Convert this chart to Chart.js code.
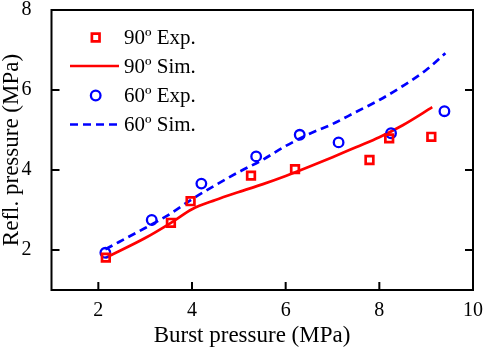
<!DOCTYPE html>
<html>
<head>
<meta charset="utf-8">
<script src="https://cdn.jsdelivr.net/npm/chart.js@4/dist/chart.umd.min.js"></script>
<style>
  html, body { margin: 0; padding: 0; background: #fff; }
  #wrap { width: 484px; height: 351px; }
</style>
</head>
<body>
<div id="wrap"><canvas id="chart" width="484" height="351"></canvas></div>
<script>
// values
const exp90X = [2.16, 3.55, 3.97, 5.26, 6.20, 7.79, 8.21, 9.11];
const exp90Y = [1.81, 2.68, 3.22, 3.86, 4.02, 4.25, 4.79, 4.83];
const sim90X = [2.16, 3.0, 3.55, 4.0, 4.5, 5.0, 5.5, 6.0, 6.5, 7.0, 7.5, 8.0, 8.5, 9.13];
const sim90Y = [1.81, 2.30, 2.68, 3.02, 3.25, 3.45, 3.64, 3.85, 4.08, 4.32, 4.57, 4.82, 5.12, 5.57];
const exp60X = [2.15, 3.14, 4.20, 5.37, 6.30, 7.13, 8.25, 9.39];
const exp60Y = [1.93, 2.75, 3.66, 4.34, 4.88, 4.69, 4.92, 5.47];
const sim60X = [2.15, 3.0, 3.5, 4.0, 4.5, 5.0, 5.5, 6.0, 6.5, 7.0, 7.5, 8.0, 8.5, 9.0, 9.41];
const sim60Y = [2.02, 2.55, 2.88, 3.27, 3.62, 3.95, 4.25, 4.60, 4.90, 5.15, 5.45, 5.75, 6.10, 6.50, 6.92];
const xTicks = [2, 4, 6, 8, 10];
const yTicks = [2, 4, 6, 8];
const labels = ['90º Exp.', '90º Sim.', '60º Exp.', '60º Sim.'];

const RED = 'rgb(255,0,0)';
const BLUE = 'rgb(0,0,255)';
const SERIF = '"Liberation Serif", "Times New Roman", serif';

const toPts = (xs, ys) => xs.map((x, i) => ({x: x, y: ys[i]}));

// frame, inward ticks, axis titles, legend
const framePlugin = {
  id: 'frame',
  afterDraw(chart) {
    const ctx = chart.ctx;
    const a = chart.chartArea;
    const xs = chart.scales.x, ys = chart.scales.y;
    ctx.save();
    ctx.strokeStyle = '#000';
    ctx.lineWidth = 2;
    ctx.strokeRect(a.left, a.top, a.right - a.left, a.bottom - a.top);
    const tl = 8;
    ctx.beginPath();
    xTicks.forEach(v => {
      const px = xs.getPixelForValue(v);
      ctx.moveTo(px, a.bottom); ctx.lineTo(px, a.bottom - tl);
    });
    yTicks.forEach(v => {
      const py = ys.getPixelForValue(v);
      ctx.moveTo(a.left, py); ctx.lineTo(a.left + tl, py);
      ctx.moveTo(a.right, py); ctx.lineTo(a.right - tl, py);
    });
    ctx.stroke();

    // axis titles
    ctx.fillStyle = '#000';
    ctx.font = '23px ' + SERIF;
    ctx.textAlign = 'center';
    ctx.textBaseline = 'middle';
    ctx.fillText('Burst pressure (MPa)', 252, 336);
    ctx.translate(12, (a.top + a.bottom) / 2);
    ctx.rotate(-Math.PI / 2);
    ctx.fillText('Refl. pressure (MPa)', 0, 0);
    ctx.restore();

    // legend
    ctx.save();
    const rows = [37.5, 66, 95.5, 124.5];
    chart.data.datasets.forEach((ds, i) => {
      const y = rows[i];
      if (ds.showLine) {
        ctx.strokeStyle = ds.borderColor;
        ctx.lineWidth = ds.borderWidth;
        ctx.setLineDash(ds.borderDash || []);
        ctx.beginPath();
        ctx.moveTo(70, y); ctx.lineTo(119, y);
        ctx.stroke();
        ctx.setLineDash([]);
      } else {
        ctx.strokeStyle = ds.pointBorderColor;
        ctx.lineWidth = ds.pointBorderWidth;
        ctx.beginPath();
        if (ds.pointStyle === 'rect') {
          const h = ds.pointRadius * Math.SQRT1_2;
          ctx.rect(95.7 - h, y - h, 2 * h, 2 * h);
        } else {
          ctx.arc(95.7, y, ds.pointRadius, 0, Math.PI * 2);
        }
        ctx.stroke();
      }
      ctx.fillStyle = '#000';
      ctx.font = '21px ' + SERIF;
      ctx.textAlign = 'left';
      ctx.textBaseline = 'middle';
      ctx.fillText(labels[i], 124, y + 1);
    });
    ctx.restore();
  }
};

new Chart(document.getElementById('chart'), {
  type: 'scatter',
  data: {
    datasets: [
      {label: labels[0], data: toPts(exp90X, exp90Y), pointStyle: 'rect', pointRadius: 5.4,
       pointBorderWidth: 2.7, pointBorderColor: RED, pointBackgroundColor: 'rgba(0,0,0,0)', order: 0},
      {label: labels[1], data: toPts(sim90X, sim90Y), showLine: true, pointRadius: 0,
       borderColor: RED, borderWidth: 2.7, cubicInterpolationMode: 'monotone', order: 1},
      {label: labels[2], data: toPts(exp60X, exp60Y), pointStyle: 'circle', pointRadius: 4.8,
       pointBorderWidth: 2.3, pointBorderColor: BLUE, pointBackgroundColor: 'rgba(0,0,0,0)', order: 0},
      {label: labels[3], data: toPts(sim60X, sim60Y), showLine: true, pointRadius: 0,
       borderColor: BLUE, borderWidth: 2.7, borderDash: [8, 5], cubicInterpolationMode: 'monotone', order: 1}
    ]
  },
  options: {
    responsive: false,
    animation: false,
    layout: {padding: {top: 10, right: 11, left: 0, bottom: 0}},
    plugins: {legend: {display: false}, tooltip: {enabled: false}},
    scales: {
      x: {
        type: 'linear', min: 1, max: 10,
        afterBuildTicks: s => { s.ticks = xTicks.map(v => ({value: v})); },
        afterFit: s => { s.height = 61; s.paddingLeft = 0; s.paddingRight = 0; },
        grid: {display: false},
        border: {display: false},
        ticks: {color: '#000', padding: 1, maxRotation: 0, font: {family: SERIF, size: 20}}
      },
      y: {
        type: 'linear', min: 1, max: 8,
        afterBuildTicks: s => { s.ticks = yTicks.map(v => ({value: v})); },
        afterFit: s => { s.width = 51.5; s.paddingTop = 0; s.paddingBottom = 0; },
        grid: {display: false},
        border: {display: false},
        ticks: {color: '#000', padding: 12, font: {family: SERIF, size: 20}}
      }
    }
  },
  plugins: [framePlugin]
});
</script>
</body>
</html>
